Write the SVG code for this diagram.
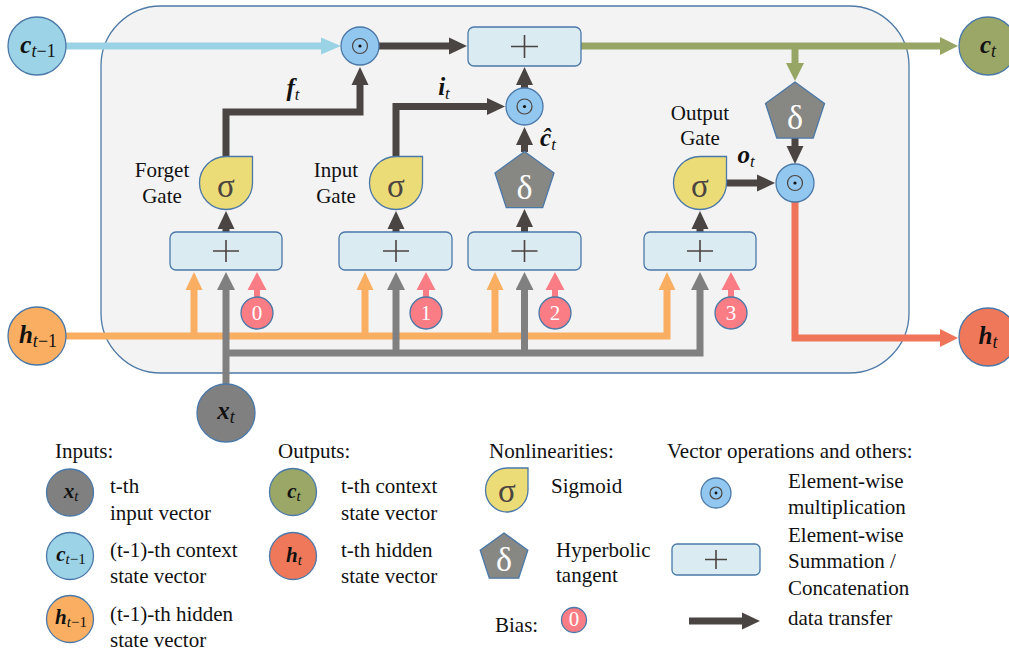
<svg xmlns="http://www.w3.org/2000/svg" width="1009" height="652" viewBox="0 0 1009 652">
  <defs>
    <style>
      .txt { font-family: "Liberation Serif", "Times New Roman", serif; font-size: 21px; fill: #111; }
      .m { font-family: "Liberation Serif", "Times New Roman", serif; fill: #111; }
      .bi { font-weight: bold; font-style: italic; }
      .it { font-style: italic; }
      .edge { stroke: #4a78a8; stroke-width: 1.3; }
      .sig { fill: #ecdc78; stroke: #4a78a8; stroke-width: 1.3; }
      .tanh { fill: #878784; stroke: #4a78a8; stroke-width: 1.3; }
      .mul { fill: #92c8ef; stroke: #4a78a8; stroke-width: 1.3; }
      .sum { fill: #daebf2; stroke: #4a78a8; stroke-width: 1.3; }
      .bias { fill: #fa7c84; stroke: #4a78a8; stroke-width: 1.3; }
      .glyph-s { font-family: "Liberation Serif", serif; font-size: 33px; fill: #4b4440; text-anchor: middle; }
      .glyph-d { font-family: "Liberation Serif", serif; font-size: 34px; fill: #fff; text-anchor: middle; }
      .glyph-b { font-family: "Liberation Serif", serif; font-size: 21px; fill: #fff; text-anchor: middle; }
      .plus { stroke: #4b4440; stroke-width: 1.6; fill: none; }
      .ink { fill: none; stroke: #4b4440; stroke-width: 1.2; }
      .w { fill: none; stroke-width: 7; stroke-linejoin: miter; }
      .dark { stroke: #4a4442; }
      .blue { stroke: #9ad3e6; }
      .green { stroke: #98a665; }
      .orange { stroke: #f9ae62; }
      .gray { stroke: #808080; }
      .coral { stroke: #ef7459; }
      .pink { stroke: #fa7c84; stroke-width: 6; fill: none; }
    </style>
    <marker id="ah-dark" viewBox="0 -9 18 18" refX="1" refY="0" markerWidth="18" markerHeight="18" markerUnits="userSpaceOnUse" orient="auto"><path d="M0,-8.5 L18,0 L0,8.5 Z" fill="#4a4442"/></marker>
    <marker id="ah-blue" viewBox="0 -9 20 18" refX="1" refY="0" markerWidth="20" markerHeight="18" markerUnits="userSpaceOnUse" orient="auto"><path d="M0,-8.5 L20,0 L0,8.5 Z" fill="#9ad3e6"/></marker>
    <marker id="ah-green" viewBox="0 -9 18 18" refX="1" refY="0" markerWidth="18" markerHeight="18" markerUnits="userSpaceOnUse" orient="auto"><path d="M0,-9 L18,0 L0,9 Z" fill="#98a665"/></marker>
    <marker id="ah-orange" viewBox="0 -9 18 18" refX="1" refY="0" markerWidth="18" markerHeight="18" markerUnits="userSpaceOnUse" orient="auto"><path d="M0,-8.5 L18,0 L0,8.5 Z" fill="#f9ae62"/></marker>
    <marker id="ah-gray" viewBox="0 -9 18 18" refX="1" refY="0" markerWidth="18" markerHeight="18" markerUnits="userSpaceOnUse" orient="auto"><path d="M0,-9 L18,0 L0,9 Z" fill="#808080"/></marker>
    <marker id="ah-pink" viewBox="0 -10 18 20" refX="1" refY="0" markerWidth="18" markerHeight="20" markerUnits="userSpaceOnUse" orient="auto"><path d="M0,-9.5 L18,0 L0,9.5 Z" fill="#fa7c84"/></marker>
    <marker id="ah-coral" viewBox="0 -9 18 18" refX="1" refY="0" markerWidth="18" markerHeight="18" markerUnits="userSpaceOnUse" orient="auto"><path d="M0,-9 L18,0 L0,9 Z" fill="#ef7459"/></marker>

    <!-- sigmoid teardrop: round on three corners, square top-right -->
    <path id="sigShape" d="M0,-26.5 H26.5 V0 A26.5 26.5 0 0 1 0,26.5 A26.5 26.5 0 0 1 -26.5,0 A26.5 26.5 0 0 1 0,-26.5 Z"/>
    <!-- regular pentagon, circumradius 31 -->
    <path id="pentShape" d="M0,-31 L29.5,-9.6 L18.2,25.1 L-18.2,25.1 L-29.5,-9.6 Z"/>
  </defs>

  <!-- cell boundary -->
  <rect id="cell" x="101" y="6" width="808" height="367" rx="60" ry="60" fill="#f3f3f3" stroke="#4e7aa6" stroke-width="1.3"/>

  <!-- connectors -->
  <g id="connectors">
    <!-- cell state path -->
    <path class="w blue" d="M66,46 H322" marker-end="url(#ah-blue)"/>
    <path class="w dark" d="M379,46 H450" marker-end="url(#ah-dark)"/>
    <path class="w green" d="M581,46 H941" marker-end="url(#ah-green)"/>
    <path class="w green" d="M795,46 V64" marker-end="url(#ah-green)"/>
    <!-- gate outputs -->
    <path class="w dark" d="M226,157 V112 H360 V84" marker-end="url(#ah-dark)"/>
    <path class="w dark" d="M396,157 V106.5 H488" marker-end="url(#ah-dark)"/>
    <path class="w dark" d="M524.5,152 V144" marker-end="url(#ah-dark)"/>
    <path class="w dark" d="M524.5,88 V84" marker-end="url(#ah-dark)"/>
    <path class="w dark" d="M795,138 V147" marker-end="url(#ah-dark)"/>
    <path class="w dark" d="M727,183 H758" marker-end="url(#ah-dark)"/>
    <path class="w coral" d="M795,202 V338 H941" marker-end="url(#ah-coral)"/>
    <!-- sums into activations -->
    <path class="w dark" d="M226,232 V228" marker-end="url(#ah-dark)"/>
    <path class="w dark" d="M396,232 V228" marker-end="url(#ah-dark)"/>
    <path class="w dark" d="M524.5,232 V226" marker-end="url(#ah-dark)"/>
    <path class="w dark" d="M700,232 V228" marker-end="url(#ah-dark)"/>
    <!-- previous hidden state -->
    <path class="w orange" d="M66,336 H667 V289" marker-end="url(#ah-orange)"/>
    <path class="w orange" d="M194,336 V289" marker-end="url(#ah-orange)"/>
    <path class="w orange" d="M365,336 V289" marker-end="url(#ah-orange)"/>
    <path class="w orange" d="M495,336 V289" marker-end="url(#ah-orange)"/>
    <!-- input vector -->
    <path class="w gray" d="M226,384 V289" marker-end="url(#ah-gray)"/>
    <path class="w gray" d="M226,353 H700 V289" marker-end="url(#ah-gray)"/>
    <path class="w gray" d="M396,353 V289" marker-end="url(#ah-gray)"/>
    <path class="w gray" d="M524.5,353 V289" marker-end="url(#ah-gray)"/>
    <!-- biases -->
    <path class="pink" d="M257,297 V289" marker-end="url(#ah-pink)"/>
    <path class="pink" d="M426,297 V289" marker-end="url(#ah-pink)"/>
    <path class="pink" d="M555,297 V289" marker-end="url(#ah-pink)"/>
    <path class="pink" d="M731,297 V289" marker-end="url(#ah-pink)"/>
  </g>

  <!-- external states -->
  <g id="c_prev">
    <circle cx="37" cy="46" r="29" fill="#9dd3e6" class="edge"/>
    <text class="m" x="38" y="53" text-anchor="middle"><tspan class="bi" font-size="25">c</tspan><tspan class="it" font-size="18" dy="4">t</tspan><tspan font-size="18">−1</tspan></text>
  </g>
  <g id="h_prev">
    <circle cx="37" cy="336" r="29" fill="#f9ae62" class="edge"/>
    <text class="m" x="38" y="343" text-anchor="middle"><tspan class="bi" font-size="25">h</tspan><tspan class="it" font-size="18" dy="4">t</tspan><tspan font-size="18">−1</tspan></text>
  </g>
  <g id="x_t">
    <circle cx="226" cy="413" r="29" fill="#808080" class="edge"/>
    <text class="m" x="226" y="419" text-anchor="middle"><tspan class="bi" font-size="25">x</tspan><tspan class="it" font-size="18" dy="4">t</tspan></text>
  </g>
  <g id="c_t">
    <circle cx="988" cy="46" r="29" fill="#9aa766" class="edge"/>
    <text class="m" x="988" y="53" text-anchor="middle"><tspan class="bi" font-size="25">c</tspan><tspan class="it" font-size="18" dy="4">t</tspan></text>
  </g>
  <g id="h_t">
    <circle cx="988" cy="337" r="29" fill="#ef785a" class="edge"/>
    <text class="m" x="988" y="344" text-anchor="middle"><tspan class="bi" font-size="25">h</tspan><tspan class="it" font-size="18" dy="4">t</tspan></text>
  </g>

  <!-- element-wise products -->
  <g id="mul_forget">
    <circle cx="360" cy="46" r="19" class="mul"/>
    <circle cx="360" cy="46" r="7.5" class="ink"/>
    <circle cx="360" cy="46" r="1.6" fill="#111"/>
  </g>
  <g id="mul_input">
    <circle cx="524.5" cy="106.5" r="18.5" class="mul"/>
    <circle cx="524.5" cy="106.5" r="7.5" class="ink"/>
    <circle cx="524.5" cy="106.5" r="1.6" fill="#111"/>
  </g>
  <g id="mul_output">
    <circle cx="795" cy="183" r="19" class="mul"/>
    <circle cx="795" cy="183" r="7.5" class="ink"/>
    <circle cx="795" cy="183" r="1.6" fill="#111"/>
  </g>

  <!-- summation blocks -->
  <g id="sum_cell">
    <rect x="468" y="27" width="113" height="39" rx="6" class="sum"/>
    <path class="plus" d="M511,46.5 H538 M524.5,35 V58"/>
  </g>
  <g id="sum_forget">
    <rect x="170" y="232" width="112" height="38" rx="6" class="sum"/>
    <path class="plus" d="M213,251 H239 M226,240 V262"/>
  </g>
  <g id="sum_input">
    <rect x="339" y="232" width="113" height="38" rx="6" class="sum"/>
    <path class="plus" d="M383,251 H409 M396,240 V262"/>
  </g>
  <g id="sum_cand">
    <rect x="468" y="232" width="113" height="38" rx="6" class="sum"/>
    <path class="plus" d="M511.5,251 H537.5 M524.5,240 V262"/>
  </g>
  <g id="sum_output">
    <rect x="644" y="232" width="112" height="38" rx="6" class="sum"/>
    <path class="plus" d="M687,251 H713 M700,240 V262"/>
  </g>

  <!-- gates -->
  <g id="forget_gate">
    <use href="#sigShape" x="226" y="183" class="sig"/>
    <text class="glyph-s" x="226" y="197">σ</text>
    <text class="txt" x="162" y="177" text-anchor="middle">Forget</text>
    <text class="txt" x="162" y="203" text-anchor="middle">Gate</text>
    <text class="m" x="293" y="96" text-anchor="middle"><tspan class="bi" font-size="25">f</tspan><tspan class="it" font-size="17" dy="4">t</tspan></text>
  </g>
  <g id="input_gate">
    <use href="#sigShape" x="396" y="183" class="sig"/>
    <text class="glyph-s" x="396" y="197">σ</text>
    <text class="txt" x="336" y="177" text-anchor="middle">Input</text>
    <text class="txt" x="336" y="203" text-anchor="middle">Gate</text>
    <text class="m" x="444" y="95" text-anchor="middle"><tspan class="bi" font-size="25">i</tspan><tspan class="it" font-size="17" dy="4">t</tspan></text>
  </g>
  <g id="candidate">
    <use href="#pentShape" x="524.5" y="182.5" class="tanh"/>
    <text class="glyph-d" x="524.5" y="199">δ</text>
    <text class="m" x="548" y="146" text-anchor="middle"><tspan class="bi" font-size="25">ĉ</tspan><tspan class="it" font-size="17" dy="4">t</tspan></text>
  </g>
  <g id="output_gate">
    <use href="#sigShape" x="700" y="183" class="sig"/>
    <text class="glyph-s" x="700" y="197">σ</text>
    <text class="txt" x="700" y="120" text-anchor="middle">Output</text>
    <text class="txt" x="700" y="145" text-anchor="middle">Gate</text>
    <text class="m" x="746" y="163" text-anchor="middle"><tspan class="bi" font-size="25">o</tspan><tspan class="it" font-size="17" dy="4">t</tspan></text>
  </g>
  <g id="cell_tanh">
    <use href="#pentShape" x="795" y="113" class="tanh"/>
    <text class="glyph-d" x="795" y="129">δ</text>
  </g>

  <!-- biases -->
  <g id="bias0"><circle cx="257" cy="313" r="16" class="bias"/><text class="glyph-b" x="257" y="320">0</text></g>
  <g id="bias1"><circle cx="426" cy="313" r="16" class="bias"/><text class="glyph-b" x="426" y="320">1</text></g>
  <g id="bias2"><circle cx="555" cy="313" r="16" class="bias"/><text class="glyph-b" x="555" y="320">2</text></g>
  <g id="bias3"><circle cx="731" cy="313" r="16" class="bias"/><text class="glyph-b" x="731" y="320">3</text></g>

  <!-- legend -->
  <g id="legend">
    <text class="txt" x="55" y="458">Inputs:</text>
    <circle cx="70" cy="492.5" r="23.5" fill="#808080" class="edge"/>
    <text class="m" x="71" y="498" text-anchor="middle"><tspan class="bi" font-size="21">x</tspan><tspan class="it" font-size="15" dy="3">t</tspan></text>
    <text class="txt" x="110" y="493">t-th</text>
    <text class="txt" x="110" y="520">input vector</text>

    <circle cx="70" cy="556" r="23.5" fill="#9dd3e6" class="edge"/>
    <text class="m" x="71" y="561" text-anchor="middle"><tspan class="bi" font-size="21">c</tspan><tspan class="it" font-size="15" dy="3">t</tspan><tspan font-size="15">−1</tspan></text>
    <text class="txt" x="110" y="557">(t-1)-th context</text>
    <text class="txt" x="110" y="583">state vector</text>

    <circle cx="70" cy="619" r="23.5" fill="#f9ae62" class="edge"/>
    <text class="m" x="71" y="624" text-anchor="middle"><tspan class="bi" font-size="21">h</tspan><tspan class="it" font-size="15" dy="3">t</tspan><tspan font-size="15">−1</tspan></text>
    <text class="txt" x="110" y="621">(t-1)-th hidden</text>
    <text class="txt" x="110" y="647">state vector</text>

    <text class="txt" x="278" y="458">Outputs:</text>
    <circle cx="293" cy="492" r="23.5" fill="#9aa766" class="edge"/>
    <text class="m" x="294" y="498" text-anchor="middle"><tspan class="bi" font-size="21">c</tspan><tspan class="it" font-size="15" dy="3">t</tspan></text>
    <text class="txt" x="341" y="493">t-th context</text>
    <text class="txt" x="341" y="520">state vector</text>
    <circle cx="293" cy="556" r="23.5" fill="#ef785a" class="edge"/>
    <text class="m" x="294" y="562" text-anchor="middle"><tspan class="bi" font-size="21">h</tspan><tspan class="it" font-size="15" dy="3">t</tspan></text>
    <text class="txt" x="341" y="557">t-th hidden</text>
    <text class="txt" x="341" y="583">state vector</text>

    <text class="txt" x="489" y="458">Nonlinearities:</text>
    <path d="M507,468 H528 V490 A21.5 22 0 0 1 507,512 A21.5 22 0 0 1 485.5,490 A21.5 22 0 0 1 507,468 Z" class="sig"/>
    <text class="glyph-s" x="507" y="502" font-size="27">σ</text>
    <text class="txt" x="551" y="493">Sigmoid</text>
    <path d="M504,533 L527.8,550.3 L518.7,578.2 L489.3,578.2 L480.2,550.3 Z" class="tanh"/>
    <text class="glyph-d" x="504" y="571" font-size="29">δ</text>
    <text class="txt" x="556" y="557">Hyperbolic</text>
    <text class="txt" x="556" y="582">tangent</text>
    <text class="txt" x="495" y="632">Bias:</text>
    <circle cx="574" cy="620" r="12.5" class="bias"/>
    <text class="glyph-b" x="574" y="626" font-size="17">0</text>

    <text class="txt" x="667" y="458">Vector operations and others:</text>
    <circle cx="716" cy="493" r="15" class="mul"/>
    <circle cx="716" cy="493" r="6" class="ink"/>
    <circle cx="716" cy="493" r="1.4" fill="#111"/>
    <text class="txt" x="788" y="488">Element-wise</text>
    <text class="txt" x="788" y="514">multiplication</text>
    <rect x="672" y="544" width="88" height="31" rx="5" class="sum"/>
    <path class="plus" d="M705,559.5 H727 M716,550 V569"/>
    <text class="txt" x="788" y="542">Element-wise</text>
    <text class="txt" x="788" y="568">Summation /</text>
    <text class="txt" x="788" y="595">Concatenation</text>
    <path class="w dark" d="M689,621 H743" stroke-width="6" marker-end="url(#ah-dark)"/>
    <text class="txt" x="788" y="625">data transfer</text>
  </g>
</svg>
